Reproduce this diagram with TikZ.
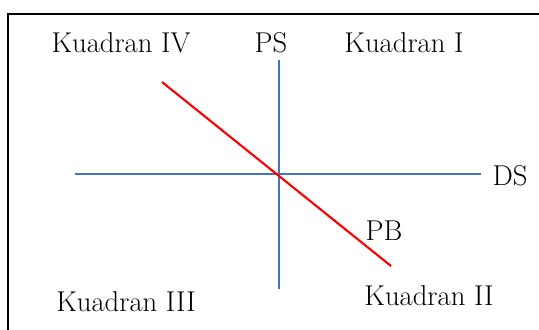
\documentclass[tikz,border=0pt]{standalone}
\usepackage{fontspec}
\usepackage{tikz}
\usetikzlibrary{positioning}
\usepackage{xcolor}
\definecolor{axisblue}{RGB}{68,114,196}

\begin{document}
\begin{tikzpicture}[x=0.75pt,y=-0.75pt,
    quadtext/.style={font=\fontsize{21.5}{26}\selectfont, inner sep=0pt, anchor=base},
    axisline/.style={draw=axisblue, line width=1.6pt},
    pbline/.style={draw=red, line width=1.6pt}]
    \useasboundingbox (0,0) rectangle (539,329);
    \clip (0,0) rectangle (539,329);
    \draw[line width=1.8pt] (8,14) rectangle (548,340);
    % axes
    \coordinate (pstop) at (279,60);
    \coordinate (psbot) at (279,289);
    \coordinate (dsleft) at (75,174);
    \coordinate (dsright) at (481,174);
    \coordinate (pbtop) at (162,82);
    \coordinate (pbbot) at (391,266);
    \draw[axisline] (pstop) -- (psbot);
    \draw[axisline] (dsleft) -- (dsright);
    \draw[pbline] (pbtop) -- (pbbot);
    % labels
    \node [quadtext] (ps) at (271,52) {PS};
    \node [quadtext] (ds) at (510,185) {DS};
    \node [quadtext] (pb) at (384,240) {PB};
    \node [quadtext] (kiv) at (121,52) {Kuadran IV};
    \node [quadtext] (ki) at (404,52) {Kuadran I};
    \node [quadtext] (kiii) at (126,311) {Kuadran III};
    \node [quadtext] (kii) at (429,305) {Kuadran II};
\end{tikzpicture}
\end{document}
